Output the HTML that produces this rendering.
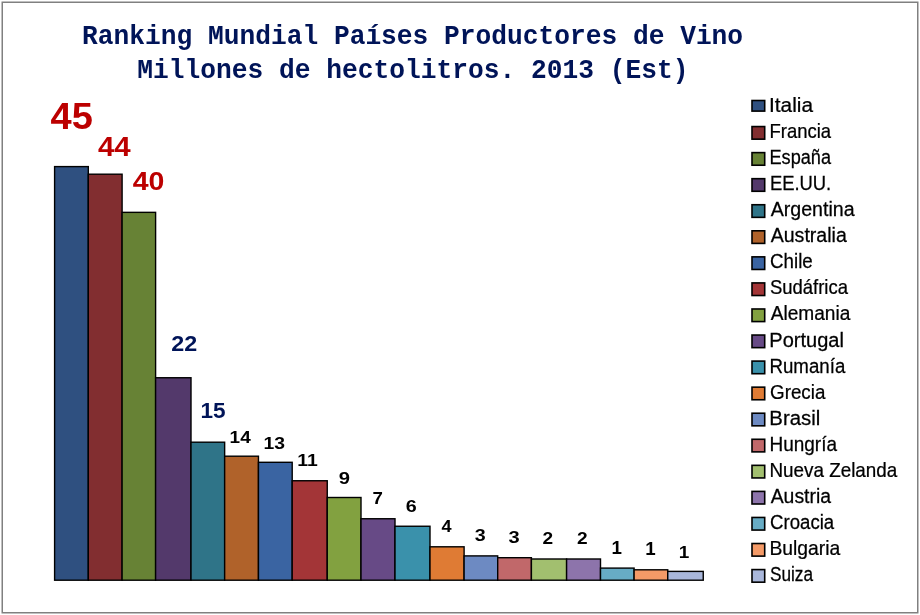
<!DOCTYPE html>
<html lang="es"><head><meta charset="utf-8"><title>Ranking Mundial Países Productores de Vino</title>
<style>html,body{margin:0;padding:0;background:#fff}body{width:920px;height:615px;overflow:hidden}svg{display:block}text{white-space:pre}.t{font-family:"Liberation Mono","DejaVu Sans Mono",monospace;font-weight:bold;fill:#001458}.d{font-family:"Liberation Sans",Arial,sans-serif;font-weight:bold}.l{font-family:"Liberation Sans",Arial,sans-serif;fill:#000;stroke:#000;stroke-width:0.25px}</style></head><body>
<svg width="920" height="615" viewBox="0 0 920 615">
<rect x="0" y="0" width="920" height="615" fill="#fff"/>
<rect x="2.25" y="2.25" width="915.5" height="610.5" fill="#fff" stroke="#808080" stroke-width="1.5"/>
<text class="t" transform="translate(82.10 44.20) scale(1.0035 1.035)" font-size="26.15">Ranking Mundial Países Productores de Vino</text>
<text class="t" transform="translate(137.34 77.85) scale(1.0038 1.035)" font-size="26.15">Millones de hectolitros. 2013 (Est)</text>
<g stroke="#000" stroke-width="1.4">
<rect x="54.60" y="166.60" width="33.70" height="413.60" fill="#2F5080"/>
<rect x="88.30" y="174.20" width="33.80" height="406.00" fill="#822E30"/>
<rect x="122.10" y="212.35" width="33.50" height="367.85" fill="#678235"/>
<rect x="155.60" y="377.75" width="35.40" height="202.45" fill="#53396B"/>
<rect x="191.00" y="442.20" width="33.65" height="138.00" fill="#2F7488"/>
<rect x="224.65" y="456.20" width="33.80" height="124.00" fill="#B0622A"/>
<rect x="258.45" y="462.30" width="33.75" height="117.90" fill="#3A64A2"/>
<rect x="292.20" y="480.75" width="35.05" height="99.45" fill="#A33537"/>
<rect x="327.25" y="497.50" width="33.75" height="82.70" fill="#82A140"/>
<rect x="361.00" y="518.75" width="34.00" height="61.45" fill="#674A86"/>
<rect x="395.00" y="526.25" width="35.00" height="53.95" fill="#3A91AB"/>
<rect x="430.00" y="546.80" width="34.10" height="33.40" fill="#DF7B34"/>
<rect x="464.10" y="555.90" width="33.60" height="24.30" fill="#6D8AC2"/>
<rect x="497.70" y="557.70" width="33.70" height="22.50" fill="#C1686A"/>
<rect x="531.40" y="559.00" width="35.20" height="21.20" fill="#A2BF6F"/>
<rect x="566.60" y="559.00" width="33.90" height="21.20" fill="#8D74AB"/>
<rect x="600.50" y="568.10" width="33.60" height="12.10" fill="#67ACC5"/>
<rect x="634.10" y="569.80" width="33.65" height="10.40" fill="#F49A67"/>
<rect x="667.75" y="571.40" width="35.50" height="8.80" fill="#A9B7DB"/>
</g>
<text class="d" transform="translate(50.52 129.07) scale(1.0389 1)" font-size="36.61" fill="#BC0000">45</text>
<text class="d" transform="translate(97.88 156.00) scale(1.0503 1)" font-size="28.07" fill="#BC0000">44</text>
<text class="d" transform="translate(132.64 190.19) scale(1.0968 1)" font-size="25.98" fill="#BC0000">40</text>
<text class="d" transform="translate(171.23 351.10) scale(1.0813 1)" font-size="21.57" fill="#001458">22</text>
<text class="d" transform="translate(200.49 418.46) scale(1.0373 1)" font-size="21.77" fill="#001458">15</text>
<text class="d" transform="translate(229.61 442.80) scale(1.1440 1)" font-size="16.58" fill="#000000">14</text>
<text class="d" transform="translate(263.49 448.80) scale(1.1890 1)" font-size="16.28" fill="#000000">13</text>
<text class="d" transform="translate(297.29 465.80) scale(1.1807 1)" font-size="16.44" fill="#000000">11</text>
<text class="d" transform="translate(338.74 484.15) scale(1.2177 1)" font-size="16.64" fill="#000000">9</text>
<text class="d" transform="translate(372.43 504.25) scale(1.0922 1)" font-size="17.09" fill="#000000">7</text>
<text class="d" transform="translate(405.76 511.65) scale(1.1865 1)" font-size="16.64" fill="#000000">6</text>
<text class="d" transform="translate(441.52 531.75) scale(1.1085 1)" font-size="16.36" fill="#000000">4</text>
<text class="d" transform="translate(474.71 541.10) scale(1.2278 1)" font-size="16.00" fill="#000000">3</text>
<text class="d" transform="translate(508.60 543.10) scale(1.2423 1)" font-size="16.14" fill="#000000">3</text>
<text class="d" transform="translate(542.48 543.80) scale(1.1341 1)" font-size="16.86" fill="#000000">2</text>
<text class="d" transform="translate(576.88 543.80) scale(1.1341 1)" font-size="16.86" fill="#000000">2</text>
<text class="d" transform="translate(611.43 553.50) scale(1.0325 1)" font-size="18.18" fill="#000000">1</text>
<text class="d" transform="translate(645.13 554.80) scale(1.0667 1)" font-size="17.60" fill="#000000">1</text>
<text class="d" transform="translate(678.81 557.90) scale(1.0969 1)" font-size="17.31" fill="#000000">1</text>
<rect x="752.0" y="100.50" width="12.7" height="10.6" fill="#2F5080" stroke="#000" stroke-width="1.6"/>
<text class="l" transform="translate(769.05 112.00) scale(1.0615 1.0)" font-size="19.6">Italia</text>
<rect x="752.0" y="126.56" width="12.7" height="12.6" fill="#822E30" stroke="#000" stroke-width="1.6"/>
<text class="l" transform="translate(769.50 138.06) scale(0.9435 1.0)" font-size="19.6">Francia</text>
<rect x="752.0" y="152.62" width="12.7" height="12.6" fill="#678235" stroke="#000" stroke-width="1.6"/>
<text class="l" transform="translate(769.53 164.12) scale(0.9257 1.0)" font-size="19.6">España</text>
<rect x="752.0" y="178.68" width="12.7" height="12.6" fill="#53396B" stroke="#000" stroke-width="1.6"/>
<text class="l" transform="translate(769.90 190.18) scale(0.9389 1.0)" font-size="19.6">EE.UU.</text>
<rect x="752.0" y="204.74" width="12.7" height="12.6" fill="#2F7488" stroke="#000" stroke-width="1.6"/>
<text class="l" transform="translate(770.68 216.24) scale(1.0001 1.0)" font-size="19.6">Argentina</text>
<rect x="752.0" y="230.80" width="12.7" height="12.6" fill="#B0622A" stroke="#000" stroke-width="1.6"/>
<text class="l" transform="translate(770.68 242.30) scale(0.9990 1.0)" font-size="19.6">Australia</text>
<rect x="752.0" y="256.86" width="12.7" height="12.6" fill="#3A64A2" stroke="#000" stroke-width="1.6"/>
<text class="l" transform="translate(770.06 268.36) scale(0.9563 1.0)" font-size="19.6">Chile</text>
<rect x="752.0" y="282.92" width="12.7" height="12.6" fill="#A33537" stroke="#000" stroke-width="1.6"/>
<text class="l" transform="translate(769.88 294.42) scale(0.9434 1.0)" font-size="19.6">Sudáfrica</text>
<rect x="752.0" y="308.98" width="12.7" height="12.6" fill="#82A140" stroke="#000" stroke-width="1.6"/>
<text class="l" transform="translate(770.68 320.48) scale(0.9744 1.0)" font-size="19.6">Alemania</text>
<rect x="752.0" y="335.04" width="12.7" height="12.6" fill="#674A86" stroke="#000" stroke-width="1.6"/>
<text class="l" transform="translate(769.37 346.54) scale(1.0218 1.0)" font-size="19.6">Portugal</text>
<rect x="752.0" y="361.10" width="12.7" height="12.6" fill="#3A91AB" stroke="#000" stroke-width="1.6"/>
<text class="l" transform="translate(769.48 372.60) scale(0.9537 1.0)" font-size="19.6">Rumanía</text>
<rect x="752.0" y="387.16" width="12.7" height="12.6" fill="#DF7B34" stroke="#000" stroke-width="1.6"/>
<text class="l" transform="translate(770.06 398.66) scale(0.9591 1.0)" font-size="19.6">Grecia</text>
<rect x="752.0" y="413.22" width="12.7" height="12.6" fill="#6D8AC2" stroke="#000" stroke-width="1.6"/>
<text class="l" transform="translate(769.34 424.72) scale(1.0399 1.0)" font-size="19.6">Brasil</text>
<rect x="752.0" y="439.28" width="12.7" height="12.6" fill="#C1686A" stroke="#000" stroke-width="1.6"/>
<text class="l" transform="translate(769.46 450.78) scale(0.9690 1.0)" font-size="19.6">Hungría</text>
<rect x="752.0" y="465.34" width="12.7" height="12.6" fill="#A2BF6F" stroke="#000" stroke-width="1.6"/>
<text class="l" transform="translate(769.47 476.84) scale(0.9625 1.0)" font-size="19.6">Nueva Zelanda</text>
<rect x="752.0" y="491.40" width="12.7" height="12.6" fill="#8D74AB" stroke="#000" stroke-width="1.6"/>
<text class="l" transform="translate(770.68 502.90) scale(0.9904 1.0)" font-size="19.6">Austria</text>
<rect x="752.0" y="517.46" width="12.7" height="12.6" fill="#67ACC5" stroke="#000" stroke-width="1.6"/>
<text class="l" transform="translate(770.07 528.96) scale(0.9501 1.0)" font-size="19.6">Croacia</text>
<rect x="752.0" y="543.52" width="12.7" height="12.6" fill="#F49A67" stroke="#000" stroke-width="1.6"/>
<text class="l" transform="translate(769.43 555.02) scale(0.9856 1.0)" font-size="19.6">Bulgaria</text>
<rect x="752.0" y="569.58" width="12.7" height="12.6" fill="#A9B7DB" stroke="#000" stroke-width="1.6"/>
<text class="l" transform="translate(769.94 581.08) scale(0.8788 1.0)" font-size="19.6">Suiza</text>
</svg></body></html>
